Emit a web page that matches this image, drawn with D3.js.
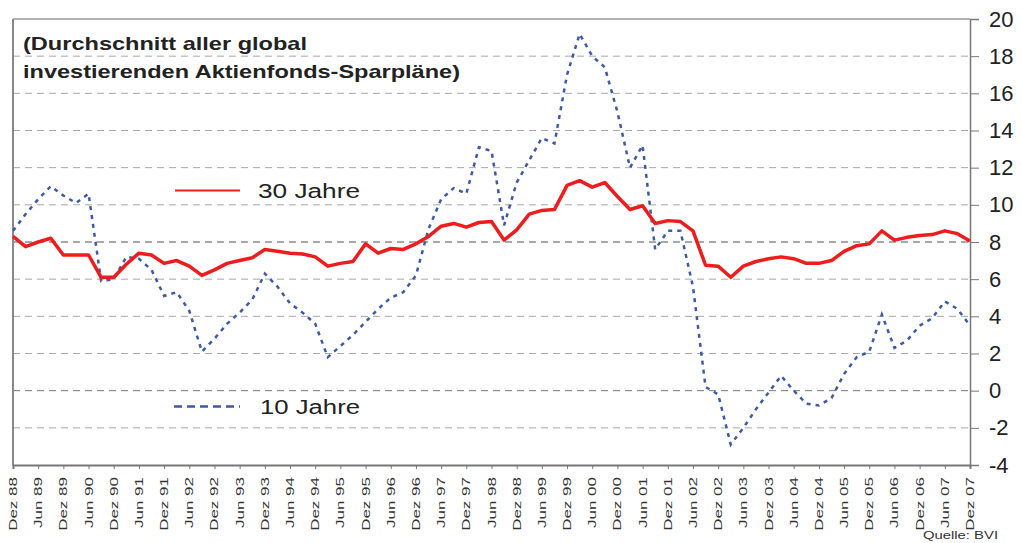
<!DOCTYPE html>
<html>
<head>
<meta charset="utf-8">
<script src="https://cdn.jsdelivr.net/npm/d3@7"></script>
<style>
  body { margin: 0; background: #fff; }
  svg { display: block; font-family: "Liberation Sans", Arial, sans-serif; }
</style>
</head>
<body>
<div id="chart-area"></div>
<script>
// half-year tick labels (every second quarter)
var xLabels = ["Dez 88", "Jun 89", "Dez 89", "Jun 90", "Dez 90", "Jun 91", "Dez 91", "Jun 92",
    "Dez 92", "Jun 93", "Dez 93", "Jun 94", "Dez 94", "Jun 95", "Dez 95", "Jun 96", "Dez 96",
    "Jun 97", "Dez 97", "Jun 98", "Dez 98", "Jun 99", "Dez 99", "Jun 00", "Dez 00", "Jun 01",
    "Dez 01", "Jun 02", "Dez 02", "Jun 03", "Dez 03", "Jun 04", "Dez 04", "Jun 05", "Dez 05",
    "Jun 06", "Dez 06", "Jun 07", "Dez 07"];

var yTicks = [-4, -2, 0, 2, 4, 6, 8, 10, 12, 14, 16, 18, 20];

// quarterly values, Dez 88 .. Dez 07
var jahre30 = [8.3, 7.75, 8.0, 8.2, 7.3, 7.3, 7.3, 6.1, 6.1, 6.8,
    7.4, 7.3, 6.85, 7.0, 6.7, 6.2, 6.5, 6.85, 7.0, 7.15,
    7.6, 7.5, 7.4, 7.35, 7.2, 6.7, 6.85, 6.95, 7.9, 7.4,
    7.65, 7.6, 7.9, 8.3, 8.85, 9.0, 8.8, 9.05, 9.1, 8.1,
    8.65, 9.5, 9.7, 9.75, 11.05, 11.3, 10.95, 11.2, 10.45, 9.75,
    9.95, 9.0, 9.15, 9.1, 8.6, 6.75, 6.7, 6.1, 6.7, 6.95,
    7.1, 7.2, 7.1, 6.85, 6.85, 7.0, 7.5, 7.8, 7.9, 8.6,
    8.1, 8.25, 8.35, 8.4, 8.6, 8.45, 8.05];

var jahre10 = [8.6, 9.5, 10.3, 11.0, 10.5, 10.1, 10.6, 5.9, 6.0, 7.2,
    7.1, 6.5, 5.1, 5.3, 4.3, 2.1, 2.8, 3.6, 4.2, 4.9,
    6.3, 5.6, 4.7, 4.2, 3.6, 1.8, 2.4, 3.0, 3.7, 4.4,
    5.0, 5.3, 6.2, 8.7, 10.3, 10.9, 10.6, 13.1, 12.9, 8.9,
    11.2, 12.4, 13.6, 13.3, 17.0, 19.2, 18.0, 17.4, 15.0, 12.0,
    13.2, 7.6, 8.6, 8.6, 5.6, 0.2, -0.2, -2.9, -2.0, -1.0,
    -0.1, 0.8, 0.0, -0.7, -0.8, -0.4, 0.9, 1.8, 2.1, 4.1,
    2.3, 2.7, 3.5, 3.9, 4.8, 4.4, 3.5];

var red = "#ee1c1c",
    blue = "#3d5aa8";

var margin = { left: 13, right: 52, top: 19, bottom: 78 },
    width = 1022 - margin.left - margin.right,
    height = 543 - margin.top - margin.bottom;

var svg = d3.select("#chart-area").append("svg")
    .attr("width", 1022)
    .attr("height", 543);

var g = svg.append("g")
    .attr("transform", "translate(" + margin.left + "," + margin.top + ")");

var x = d3.scaleLinear().domain([0, jahre30.length - 1]).range([0, width]);
var y = d3.scaleLinear().domain([-4, 20]).range([height, 0]);

// Gridlines
g.append("g").selectAll("line")
    .data(yTicks.filter(function (d) { return d > -4 && d < 20; }))
    .enter().append("line")
    .attr("x1", 0).attr("x2", width)
    .attr("y1", function (d) { return y(d); })
    .attr("y2", function (d) { return y(d); })
    .attr("stroke", function (d) { return d === 0 ? "#777" : "#a8a8a8"; })
    .attr("stroke-width", function (d) { return d === 8 ? 2 : 1; })
    .attr("stroke-dasharray", "7,5");

// Frame: top + left
g.append("line").attr("x1", 0).attr("x2", width).attr("y1", 0).attr("y2", 0)
    .attr("stroke", "#999").attr("stroke-width", 1.5);
g.append("line").attr("x1", 0).attr("x2", 0).attr("y1", 0).attr("y2", height)
    .attr("stroke", "#888").attr("stroke-width", 2);

// Right y axis
var yAxis = g.append("g")
    .attr("transform", "translate(" + width + ",0)")
    .call(d3.axisRight(y).tickValues(yTicks).tickSize(9).tickPadding(10)
        .tickFormat(function (d) { return String(d); }));
yAxis.select(".domain").attr("stroke", "#777").attr("stroke-width", 1.5);
yAxis.selectAll(".tick line").attr("stroke", "#777");
yAxis.selectAll(".tick text")
    .attr("font-size", "22px")
    .attr("fill", "#222")
    .attr("font-family", "Liberation Sans, Arial, sans-serif");

// Bottom x axis
var xAxis = g.append("g")
    .attr("transform", "translate(0," + height + ")")
    .call(d3.axisBottom(x)
        .tickValues(d3.range(0, jahre30.length, 2))
        .tickSize(4)
        .tickFormat(function (d) { return xLabels[d / 2]; }));
xAxis.select(".domain").attr("stroke", "#777").attr("stroke-width", 2);
xAxis.selectAll(".tick line").attr("stroke", "#777");
xAxis.selectAll(".tick text")
    .attr("font-size", "10px")
    .attr("fill", "#333")
    .attr("font-family", "Liberation Sans, Arial, sans-serif")
    .attr("text-anchor", "end")
    .attr("x", 0).attr("y", 0).attr("dy", "0.35em")
    .attr("transform", "translate(0,12) rotate(-90) scale(1.7,1)");

// Lines
var line = d3.line()
    .x(function (d, i) { return x(i); })
    .y(function (d) { return y(d); });

g.append("path")
    .attr("d", line(jahre10))
    .attr("fill", "none")
    .attr("stroke", blue)
    .attr("stroke-width", 2.5)
    .attr("stroke-dasharray", "4,5");

g.append("path")
    .attr("d", line(jahre30))
    .attr("fill", "none")
    .attr("stroke", red)
    .attr("stroke-width", 3.5)
    .attr("stroke-linejoin", "round");

// Title
svg.append("text")
    .attr("x", 23).attr("y", 50)
    .attr("font-size", "19px").attr("font-weight", "bold").attr("fill", "#222")
    .attr("textLength", 284).attr("lengthAdjust", "spacingAndGlyphs")
    .text("(Durchschnitt aller global");
svg.append("text")
    .attr("x", 23).attr("y", 78)
    .attr("font-size", "19px").attr("font-weight", "bold").attr("fill", "#222")
    .attr("textLength", 437).attr("lengthAdjust", "spacingAndGlyphs")
    .text("investierenden Aktienfonds-Sparpläne)");

// Legend
svg.append("line")
    .attr("x1", 175).attr("x2", 240).attr("y1", 190.5).attr("y2", 190.5)
    .attr("stroke", red).attr("stroke-width", 2);
svg.append("text")
    .attr("x", 258).attr("y", 197.5)
    .attr("font-size", "20px").attr("fill", "#222")
    .attr("textLength", 102).attr("lengthAdjust", "spacingAndGlyphs")
    .text("30 Jahre");

svg.append("line")
    .attr("x1", 174).attr("x2", 240).attr("y1", 406.5).attr("y2", 406.5)
    .attr("stroke", blue).attr("stroke-width", 2.5)
    .attr("stroke-dasharray", "8,5");
svg.append("text")
    .attr("x", 260).attr("y", 413.5)
    .attr("font-size", "20px").attr("fill", "#222")
    .attr("textLength", 100).attr("lengthAdjust", "spacingAndGlyphs")
    .text("10 Jahre");

// Source
svg.append("text")
    .attr("x", 923).attr("y", 539)
    .attr("font-size", "11px").attr("fill", "#333")
    .attr("textLength", 75).attr("lengthAdjust", "spacingAndGlyphs")
    .text("Quelle: BVI");
</script>
</body>
</html>
